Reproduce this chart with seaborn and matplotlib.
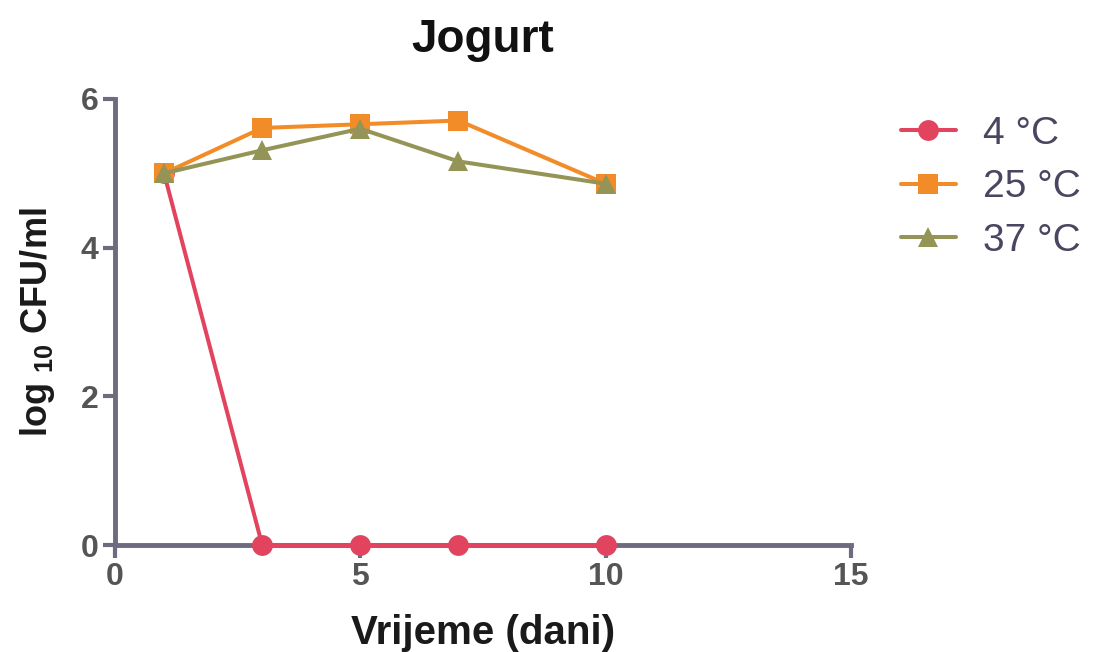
import numpy as np
import pandas as pd
import matplotlib
matplotlib.use("Agg")
import matplotlib.pyplot as plt
import seaborn as sns

days = [1, 3, 5, 7, 10]
temp_labels = ["4 °C", "25 °C", "37 °C"]
vals_4 = [5.0, 0.0, 0.0, 0.0, 0.0]
vals_25 = [5.0, 5.61, 5.66, 5.71, 4.86]
vals_37 = [5.0, 5.31, 5.60, 5.16, 4.86]
x_ticks = [0, 5, 10, 15]
y_ticks = [0, 2, 4, 6]

sns.set_theme(style="white")
plt.rcParams['font.family'] = ['Liberation Sans', 'DejaVu Sans']
plt.rcParams['mathtext.fontset'] = 'custom'
plt.rcParams['mathtext.rm'] = 'Liberation Sans:bold'
plt.rcParams['mathtext.it'] = 'Liberation Sans:bold'
plt.rcParams['mathtext.bf'] = 'Liberation Sans:bold'

df = pd.DataFrame({
    "day": days * 3,
    "value": vals_4 + vals_25 + vals_37,
    "temp": [temp_labels[0]] * 5 + [temp_labels[1]] * 5 + [temp_labels[2]] * 5,
})

palette = {temp_labels[0]: "#E2445F", temp_labels[1]: "#F28C28", temp_labels[2]: "#949457"}
markers = {temp_labels[0]: "o", temp_labels[1]: "s", temp_labels[2]: "^"}
axis_col = "#6E6A80"

fig = plt.figure(figsize=(10.93, 6.52), dpi=100)
ax = fig.add_axes([0.1052, 0.1641, 0.6734, 0.6841])

sns.lineplot(data=df, x="day", y="value", hue="temp", style="temp",
             palette=palette, markers=markers, dashes=False,
             linewidth=2.9, markersize=15, markeredgewidth=0,
             ax=ax, legend=False, clip_on=False, zorder=3)

ax.set_xlim(0, 15)
ax.set_ylim(0, 6)
ax.set_xticks(x_ticks)
ax.set_yticks(y_ticks)
for s in ["top", "right"]:
    ax.spines[s].set_visible(False)
for s in ["left", "bottom"]:
    ax.spines[s].set_color(axis_col)
    ax.spines[s].set_linewidth(3.5)
    ax.spines[s].set_zorder(1)
ax.tick_params(axis="both", direction="out", length=9, width=3, color=axis_col,
               labelsize=23, labelcolor="#555555", pad=3, left=True, bottom=True)
for lab in ax.get_xticklabels() + ax.get_yticklabels():
    lab.set_fontweight("bold")

ax.set_xlabel("Vrijeme (dani)", fontsize=29, fontweight="bold", color="#1a1a1a", labelpad=16)
ax.set_ylabel(r"log ${}_{10}$ CFU/ml", fontsize=26, fontweight="bold", color="#1a1a1a", labelpad=17)
ax.set_title("Jogurt", fontsize=33, fontweight="bold", color="#111111", pad=34)

handles = [plt.Line2D([], [], color=palette[t], marker=markers[t], linewidth=2.9,
                      markersize=15, markeredgewidth=0) for t in temp_labels]
leg = fig.legend(handles, temp_labels, loc="upper left", bbox_to_anchor=(0.7925, 0.876),
                 frameon=False, fontsize=28, handlelength=1.4, labelspacing=0.45,
                 handletextpad=0.7)
for t in leg.get_texts():
    t.set_color("#4a4560")

fig.savefig("out.png", dpi=100)
